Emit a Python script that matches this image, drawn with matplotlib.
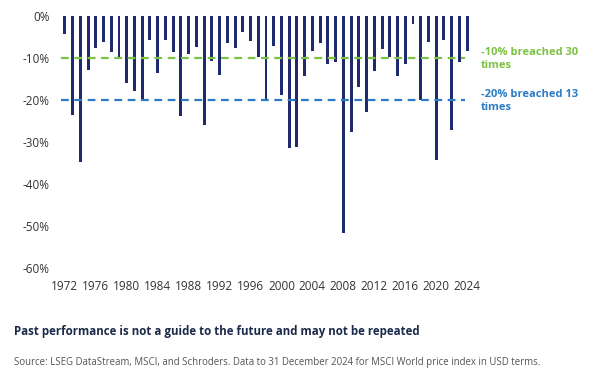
import matplotlib
matplotlib.use("Agg")
import matplotlib.pyplot as plt
import numpy as np

years = list(range(1972, 2025))
drawdowns = [
    -4.4, -23.6, -34.7, -12.9, -7.7, -6.3, -8.6, -10.1, -15.9, -17.8,
    -19.8, -5.7, -13.5, -5.6, -8.5, -23.7, -9.0, -7.3, -26.0, -10.7,
    -14.0, -6.5, -7.7, -3.7, -6.0, -9.8, -20.0, -7.1, -18.8, -31.5,
    -31.3, -14.4, -8.3, -6.5, -11.5, -11.0, -51.7, -27.5, -16.8, -22.8,
    -13.1, -7.9, -9.8, -14.3, -11.5, -2.0, -20.0, -6.1, -34.3, -5.6,
    -27.1, -10.9, -8.3,
]
xtick_years = list(range(1972, 2025, 4))
yticks = [0, -10, -20, -30, -40, -50, -60]
thresholds = [-10, -20]
threshold_labels = ["-10% breached 30\ntimes", "-20% breached 13\ntimes"]

bar_color = "#1f2a6e"
green = "#7cc242"
blue = "#2b7bc6"
font = ["Open Sans", "DejaVu Sans"]
plt.rcParams["font.family"] = font

fig = plt.figure(figsize=(6.0, 3.79), dpi=100)
ax = fig.add_axes([61 / 600, 1 - 268 / 379, 410 / 600, 252 / 379])

ax.bar(years, drawdowns, width=0.38, color=bar_color, zorder=2)
ax.axhline(thresholds[0], xmin=0.0, xmax=0.985, color=green, lw=1.6, ls=(0, (3.5, 2.5)), zorder=3)
ax.axhline(thresholds[1], xmin=0.0, xmax=0.985, color=blue, lw=1.6, ls=(0, (3.5, 2.5)), zorder=3)

ax.set_xlim(1971.5, 2024.5)
ax.set_ylim(-60, 0)
ax.set_xticks(xtick_years)
ax.set_xticklabels([str(y) for y in xtick_years])
ax.set_yticks(yticks)
ax.set_yticklabels([f"{v}%" for v in yticks])
ax.tick_params(length=0, labelsize=8.5, colors="#333333")
ax.tick_params(axis="y", pad=8)
ax.tick_params(axis="x", pad=9)
for s in ax.spines.values():
    s.set_visible(False)

ax.text(1.025, thresholds[0] - 0.3, threshold_labels[0], transform=ax.get_yaxis_transform(),
        color=green, fontsize=8.0, fontweight="bold", va="center", ha="left", linespacing=1.25)
ax.text(1.025, thresholds[1] - 0.3, threshold_labels[1], transform=ax.get_yaxis_transform(),
        color=blue, fontsize=8.0, fontweight="bold", va="center", ha="left", linespacing=1.25)

fig.text(14 / 600, 1 - 331 / 379, "Past performance is not a guide to the future and may not be repeated",
         fontsize=8.3, fontweight="bold", color="#1b2a4a", va="center", ha="left")
fig.text(14 / 600, 1 - 363 / 379,
         "Source: LSEG DataStream, MSCI, and Schroders. Data to 31 December 2024 for MSCI World price index in USD terms.",
         fontsize=6.95, color="#555555", va="center", ha="left")

fig.savefig("out.png", dpi=100, facecolor="white")
